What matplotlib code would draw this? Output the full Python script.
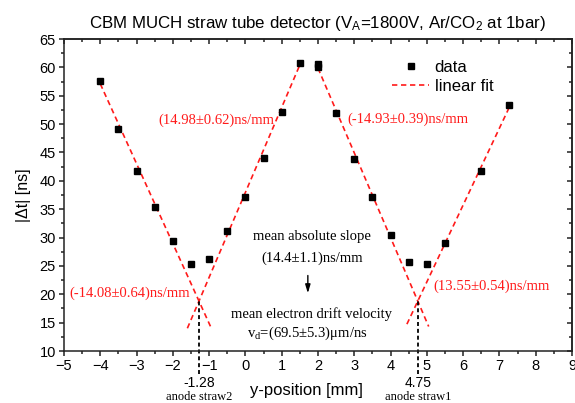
import matplotlib
matplotlib.use("Agg")
import matplotlib.pyplot as plt
from matplotlib.ticker import MultipleLocator
from matplotlib.lines import Line2D
import numpy as np

# ---- data ----
x_data = [-4.0, -3.5, -3.0, -2.5, -2.0, -1.5, -1.0, -0.5, 0.0, 0.5, 1.0, 1.5,
          2.0, 2.0, 2.5, 3.0, 3.5, 4.0, 4.5, 5.0, 5.5, 6.5, 7.25]
y_data = [57.6, 49.1, 41.8, 35.3, 29.4, 25.4, 26.2, 31.2, 37.2, 44.1, 52.1, 60.7,
          60.6, 60.0, 51.9, 43.9, 37.2, 30.5, 25.7, 25.4, 29.1, 41.8, 53.3]

# linear fits: slope, crossing point (x0, y0), drawn x-range
fit_slopes = [-14.08, 14.98, -14.93, 13.55]
fit_x0 = [-1.28, -1.28, 4.75, 4.75]
fit_y0 = [18.8, 18.8, 18.8, 18.8]
fit_xmin = [-4.0, -1.6, 2.0, 4.45]
fit_xmax = [-0.95, 1.5, 5.05, 7.25]
fit_labels = ["(-14.08\u00b10.64)ns/mm", "(14.98\u00b10.62)ns/mm",
              "(-14.93\u00b10.39)ns/mm", "(13.55\u00b10.54)ns/mm"]

anode_x = [-1.28, 4.75]
anode_vals = ["-1.28", "4.75"]
anode_names = ["anode straw2", "anode straw1"]

SANS = "Liberation Sans"
SERIF = "Liberation Serif"
plt.rcParams["font.family"] = SANS
plt.rcParams["mathtext.default"] = "regular"

fig = plt.figure(figsize=(5.75, 4.03), dpi=100)
ax = fig.add_axes([0.1113, 0.129, 0.8835, 0.7742])
AXC = "#222222"
RED = "#ff1a1a"

# fit lines
for s, x0, y0, a, b in zip(fit_slopes, fit_x0, fit_y0, fit_xmin, fit_xmax):
    xx = np.array([a, b])
    ax.plot(xx, y0 + s * (xx - x0), color=RED, lw=1.2,
            linestyle=(0, (3.2, 2.2)), zorder=2)

# data
ax.plot(x_data, y_data, linestyle="none", marker="s", ms=4.8,
        color="black", zorder=3)

# legend (manual handles)
h1 = Line2D([], [], linestyle="none", marker="s", ms=4.8, color="black")
h2 = Line2D([], [], color=RED, lw=1.2, linestyle=(0, (3.2, 2.2)))
ax.legend([h1, h2], ["data", "linear fit"], loc="upper left",
          bbox_to_anchor=(0.646, 0.933), frameon=False, fontsize=12,
          handlelength=2.2, handletextpad=0.35, borderpad=0,
          borderaxespad=0, labelspacing=0.25)

# anode vertical lines
for xa, val, nm in zip(anode_x, anode_vals, anode_names):
    ax.plot([xa, xa], [6.0, 19.0], color="black", lw=1.3,
            linestyle=(0, (2.2, 1.6)), clip_on=False, zorder=2)
    ax.text(xa, 4.4, val, ha="center", va="center", fontsize=10,
            family=SANS, clip_on=False)
    ax.text(xa, 1.9, nm, ha="center", va="center", fontsize=9,
            family=SERIF, clip_on=False)

# slope annotations
ax.text(-1.53, 20.2, fit_labels[0], ha="right", va="center", color=RED,
        fontsize=10.5, family=SERIF)
ax.text(0.81, 50.7, fit_labels[1], ha="right", va="center", color=RED,
        fontsize=10.5, family=SERIF)
ax.text(2.80, 50.8, fit_labels[2], ha="left", va="center", color=RED,
        fontsize=10.5, family=SERIF)
ax.text(5.19, 21.5, fit_labels[3], ha="left", va="center", color=RED,
        fontsize=10.5, family=SERIF)

ax.text(1.83, 30.1, "mean absolute slope", ha="center", va="center",
        fontsize=10.5, family=SERIF)
ax.text(1.83, 26.4, "(14.4\u00b11.1)ns/mm", ha="center", va="center",
        fontsize=10.5, family=SERIF)
ax.annotate("", xy=(1.72, 19.7), xytext=(1.72, 23.8),
            arrowprops=dict(arrowstyle="-|>,head_length=0.5,head_width=0.15",
                            color="black", lw=1.0))
ax.text(1.83, 16.5, "mean electron drift velocity", ha="center", va="center",
        fontsize=10.5, family=SERIF)
ax.text(1.70, 13.1, "v$_{d}$=(69.5\u00b15.3)\u03bcm/ns", ha="center",
        va="center", fontsize=10.5, family=SERIF)

# axes styling
ax.set_xlim(-5, 9)
ax.set_ylim(10, 65)
ax.xaxis.set_major_locator(MultipleLocator(1))
ax.xaxis.set_minor_locator(MultipleLocator(0.5))
ax.yaxis.set_major_locator(MultipleLocator(5))
ax.yaxis.set_minor_locator(MultipleLocator(2.5))
for sp in ax.spines.values():
    sp.set_linewidth(1.1)
    sp.set_color(AXC)
ax.tick_params(which="both", direction="out", width=1.1, color=AXC,
               labelsize=10.5, pad=2)
ax.tick_params(which="major", length=3.8)
ax.tick_params(which="minor", length=2.2)

secx = ax.secondary_xaxis("top")
secx.xaxis.set_major_locator(MultipleLocator(1))
secx.xaxis.set_minor_locator(MultipleLocator(0.5))
secx.tick_params(which="both", direction="in", width=1.1, color=AXC,
                 labeltop=False)
secx.tick_params(which="major", length=3.8)
secx.tick_params(which="minor", length=2.2)
secx.spines["top"].set_linewidth(1.1)
secx.spines["top"].set_color(AXC)

secy = ax.secondary_yaxis("right")
secy.yaxis.set_major_locator(MultipleLocator(5))
secy.yaxis.set_minor_locator(MultipleLocator(2.5))
secy.tick_params(which="both", direction="in", width=1.1, color=AXC,
                 labelright=False)
secy.tick_params(which="major", length=3.8)
secy.tick_params(which="minor", length=2.2)
secy.spines["right"].set_linewidth(1.1)
secy.spines["right"].set_color(AXC)

ax.set_xlabel("y-position [mm]", fontsize=12)
ax.xaxis.label.set_va("center")
ax.xaxis.set_label_coords(0.477, -0.125)
ax.set_ylabel("|\u0394t| [ns]", fontsize=11.5, labelpad=6)

fig.text(0.553, 0.942, "CBM MUCH straw tube detector (V$_{A}$=1800V, Ar/CO$_{2}$ at 1bar)",
         ha="center", va="center", fontsize=12.2, family=SANS)

fig.savefig("out.png", dpi=100)
